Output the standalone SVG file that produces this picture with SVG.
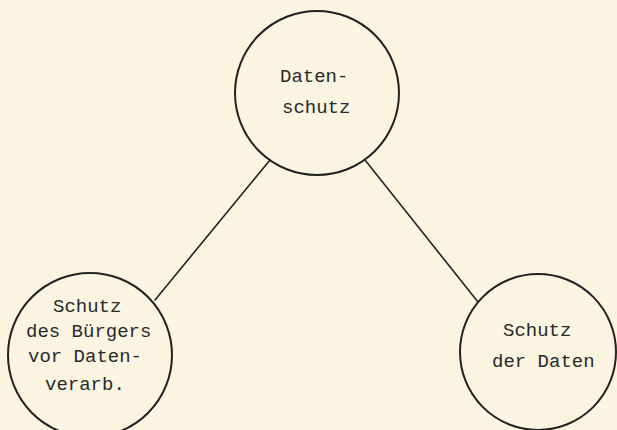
<svg xmlns="http://www.w3.org/2000/svg" width="617" height="430" viewBox="0 0 617 430">
  <style>
    .bg { fill: #faf4e1; }
    .node circle { fill: none; stroke: #222; stroke-width: 2; }
    .node text { font-family: "Liberation Mono", "DejaVu Sans Mono", monospace; font-size: 19px; fill: #2a2a2a; }
    #connectors line { stroke: #222; stroke-width: 1.6; stroke-linecap: round; }
  </style>
  <rect class="bg" x="0" y="0" width="617" height="430"/>

  <!-- connectors -->
  <g id="connectors">
    <line x1="270" y1="160" x2="155" y2="300"/>
    <line x1="365" y1="160" x2="478" y2="302"/>
  </g>

  <!-- top node -->
  <g id="datenschutz" class="node">
    <circle cx="317" cy="93" r="82"/>
    <text x="280" y="82">Daten-</text>
    <text x="282" y="113">schutz</text>
  </g>

  <!-- bottom left node -->
  <g id="schutz-buerger" class="node">
    <circle cx="90" cy="355" r="82"/>
    <text x="53" y="312">Schutz</text>
    <text x="26" y="337">des Bürgers</text>
    <text x="28" y="362">vor Daten-</text>
    <text x="45" y="390">verarb.</text>
  </g>

  <!-- bottom right node -->
  <g id="schutz-daten" class="node">
    <circle cx="538" cy="352" r="78"/>
    <text x="503" y="336">Schutz</text>
    <text x="492" y="367">der Daten</text>
  </g>
</svg>
